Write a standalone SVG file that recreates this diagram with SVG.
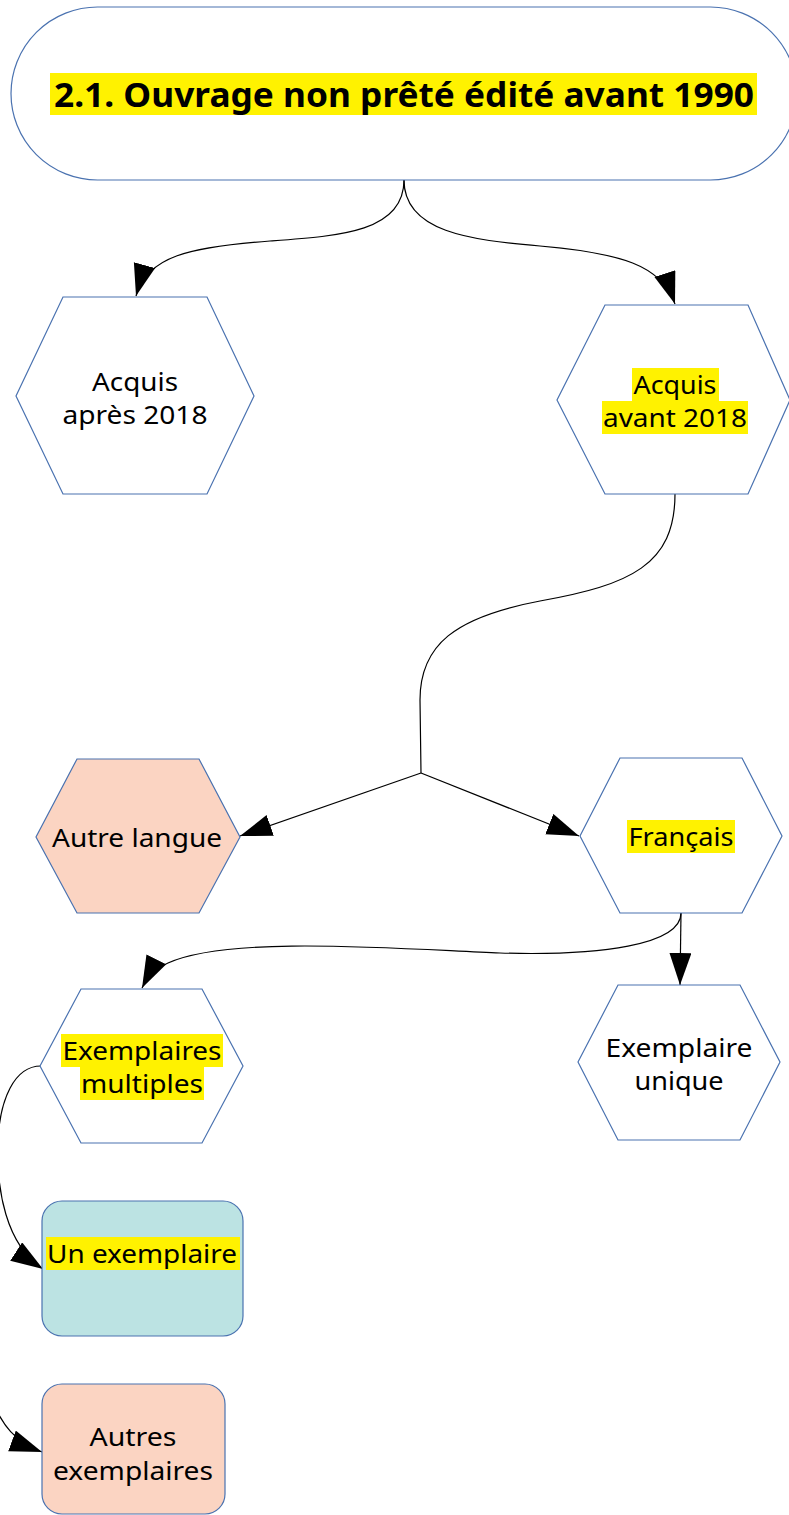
<svg xmlns="http://www.w3.org/2000/svg" width="789" height="1515" viewBox="0 0 789 1515">
<style>
.node{stroke:#4a72b0;stroke-width:1.2;fill:#fff}
.peach{fill:#fbd4c2}
.teal{fill:#bce3e3}
.hl{fill:#fff200}
.t{font-family:"Noto Sans","Open Sans",sans-serif;font-size:26px;fill:#000;text-anchor:middle}
.title{font-family:"Noto Sans","Open Sans",sans-serif;font-size:34px;font-weight:bold;fill:#000;text-anchor:middle}
.edge{fill:none;stroke:#000;stroke-width:1.2}
</style>
<defs>
<marker id="arr" markerUnits="userSpaceOnUse" markerWidth="34" markerHeight="24" refX="32" refY="11" orient="auto">
<path d="M0,0 L32,11 L0,22 Z" fill="#000"/>
</marker>
</defs>
<rect width="789" height="1515" fill="#fff"/>

<g id="connectors">
<path class="edge" d="M404,180 C404,232 340,236 270,241 C190,247 147,256 136,296" marker-end="url(#arr)"/>
<path class="edge" d="M404,180 C404,232 470,240 540,246 C620,253 662,265 675,304" marker-end="url(#arr)"/>
<path class="edge" d="M675,494 C675,565 630,585 540,601 C455,617 420,645 420,700 L421,773"/>
<path class="edge" d="M421,773 L240,836" marker-end="url(#arr)"/>
<path class="edge" d="M421,773 L579,836" marker-end="url(#arr)"/>
<path class="edge" d="M681,913 C681,945 600,956 500,953 C400,949 230,935 168,963 C155,969 148,976 142,988" marker-end="url(#arr)"/>
<path class="edge" d="M681,913 L680,985" marker-end="url(#arr)"/>
<path class="edge" d="M41,1066 C14,1066 0,1100 -2,1140 C-4,1190 6,1245 43,1269" marker-end="url(#arr)"/>
<path class="edge" d="M-2,1140 C-20,1250 -25,1350 -8,1400 C2,1425 15,1442 42,1452" marker-end="url(#arr)"/>
</g>

<g id="n-title">
<rect class="node" x="11" y="7" width="786" height="173" rx="86.5" ry="86.5"/>
<rect class="hl" x="50" y="73" width="707" height="42"/>
<text class="title" x="404" y="107" textLength="700" lengthAdjust="spacingAndGlyphs">2.1. Ouvrage non prêté édité avant 1990</text>
</g>

<g id="n-apres">
<polygon class="node" points="63,297 207,297 254,396 207,494 63,494 16,396"/>
<text class="t" x="135" y="391" textLength="86" lengthAdjust="spacingAndGlyphs">Acquis</text>
<text class="t" x="135" y="424" textLength="145" lengthAdjust="spacingAndGlyphs">après 2018</text>
</g>

<g id="n-avant">
<polygon class="node" points="605,305 748,305 790,400 748,494 605,494 557,400"/>
<rect class="hl" x="632" y="368" width="87" height="33"/>
<rect class="hl" x="602" y="401" width="146" height="33"/>
<text class="t" x="675" y="394" textLength="83" lengthAdjust="spacingAndGlyphs">Acquis</text>
<text class="t" x="675" y="427" textLength="144" lengthAdjust="spacingAndGlyphs">avant 2018</text>
</g>

<g id="n-autre-langue">
<polygon class="node peach" points="77,759 199,759 240,837 199,913 77,913 36,837"/>
<text class="t" x="137" y="847" textLength="170" lengthAdjust="spacingAndGlyphs">Autre langue</text>
</g>

<g id="n-francais">
<polygon class="node" points="620,758 742,758 782,836 742,913 620,913 580,836"/>
<rect class="hl" x="627" y="820" width="108" height="33"/>
<text class="t" x="681" y="846" textLength="105" lengthAdjust="spacingAndGlyphs">Français</text>
</g>

<g id="n-multiples">
<polygon class="node" points="81,989 202,989 243,1066 202,1143 81,1143 40,1066"/>
<rect class="hl" x="61" y="1034" width="162" height="33"/>
<rect class="hl" x="80" y="1067" width="124" height="33"/>
<text class="t" x="142" y="1060" textLength="159" lengthAdjust="spacingAndGlyphs">Exemplaires</text>
<text class="t" x="142" y="1093" textLength="122" lengthAdjust="spacingAndGlyphs">multiples</text>
</g>

<g id="n-unique">
<polygon class="node" points="618,985 740,985 780,1062 740,1140 618,1140 578,1062"/>
<text class="t" x="679" y="1057" textLength="147" lengthAdjust="spacingAndGlyphs">Exemplaire</text>
<text class="t" x="679" y="1090" textLength="89" lengthAdjust="spacingAndGlyphs">unique</text>
</g>

<g id="n-un-exemplaire">
<rect class="node teal" x="42" y="1201" width="201" height="135" rx="20" ry="20"/>
<rect class="hl" x="46" y="1237" width="194" height="33"/>
<text class="t" x="142" y="1263" textLength="190" lengthAdjust="spacingAndGlyphs">Un exemplaire</text>
</g>

<g id="n-autres">
<rect class="node peach" x="42" y="1384" width="183" height="130" rx="20" ry="20"/>
<text class="t" x="133" y="1446" textLength="87" lengthAdjust="spacingAndGlyphs">Autres</text>
<text class="t" x="133" y="1480" textLength="160" lengthAdjust="spacingAndGlyphs">exemplaires</text>
</g>
</svg>
